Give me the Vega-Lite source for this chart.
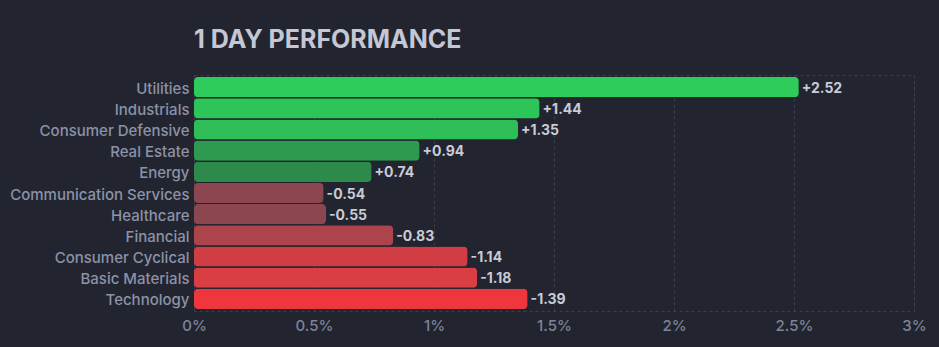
{
  "$schema": "https://vega.github.io/schema/vega-lite/v6.json",
  "autosize": {"type": "none"},
  "width": 720,
  "height": 236,
  "padding": {"left": 194, "top": 75, "right": 25, "bottom": 36},
  "background": "#22252f",
  "title": {
    "text": "1 DAY PERFORMANCE",
    "anchor": "start",
    "frame": "group",
    "font": "Inter",
    "fontSize": 25,
    "fontWeight": "bold",
    "color": "#c5c7d4",
    "offset": 22
  },
  "config": {
    "view": {"stroke": "#3a3e4b", "strokeDash": [3, 3], "strokeWidth": 1},
    "font": "Inter"
  },
  "data": {
    "values": [
      {"sector": "Utilities", "change": 2.52},
      {"sector": "Industrials", "change": 1.44},
      {"sector": "Consumer Defensive", "change": 1.35},
      {"sector": "Real Estate", "change": 0.94},
      {"sector": "Energy", "change": 0.74},
      {"sector": "Communication Services", "change": -0.54},
      {"sector": "Healthcare", "change": -0.55},
      {"sector": "Financial", "change": -0.83},
      {"sector": "Consumer Cyclical", "change": -1.14},
      {"sector": "Basic Materials", "change": -1.18},
      {"sector": "Technology", "change": -1.39}
    ]
  },
  "transform": [
    {"calculate": "abs(datum.change)", "as": "magnitude"},
    {"calculate": "(datum.change > 0 ? '+' : '-') + format(abs(datum.change), '.2f')", "as": "label"}
  ],
  "encoding": {
    "y": {
      "field": "sector",
      "type": "nominal",
      "sort": null,
      "title": null,
      "scale": {"paddingInner": 0.05, "paddingOuter": 0.1},
      "axis": {
        "ticks": false,
        "domain": false,
        "labelColor": "#8c92a7",
        "labelFontSize": 15,
        "labelFontWeight": 500,
        "labelPadding": 5,
        "labelOffset": 1.5
      }
    },
    "x": {
      "field": "magnitude",
      "type": "quantitative",
      "title": null,
      "scale": {"domain": [0, 3], "nice": false},
      "axis": {
        "values": [0, 0.5, 1, 1.5, 2, 2.5, 3],
        "labelExpr": "datum.value + '%'",
        "ticks": false,
        "domain": false,
        "grid": true,
        "gridColor": "#3a3e4b",
        "gridDash": [3, 3],
        "labelColor": "#7e8498",
        "labelFontSize": 15,
        "labelFontWeight": 500,
        "labelPadding": 7,
        "labelFlush": false
      }
    }
  },
  "layer": [
    {
      "mark": {"type": "bar", "cornerRadius": 4},
      "encoding": {
        "color": {
          "field": "sector",
          "type": "nominal",
          "legend": null,
          "scale": {
            "domain": ["Utilities", "Industrials", "Consumer Defensive", "Real Estate", "Energy", "Communication Services", "Healthcare", "Financial", "Consumer Cyclical", "Basic Materials", "Technology"],
            "range": ["#2ecc5a", "#2dc459", "#2fbd57", "#2e9a4f", "#2e8a4b", "#8b4650", "#8b4650", "#ae444b", "#d03e43", "#d93f42", "#ef363e"]
          }
        }
      }
    },
    {
      "mark": {"type": "text", "align": "left", "dx": 3, "dy": 1.5, "fontSize": 14, "fontWeight": "bold", "color": "#c9cbd6"},
      "encoding": {
        "text": {"field": "label", "type": "nominal"}
      }
    }
  ]
}
